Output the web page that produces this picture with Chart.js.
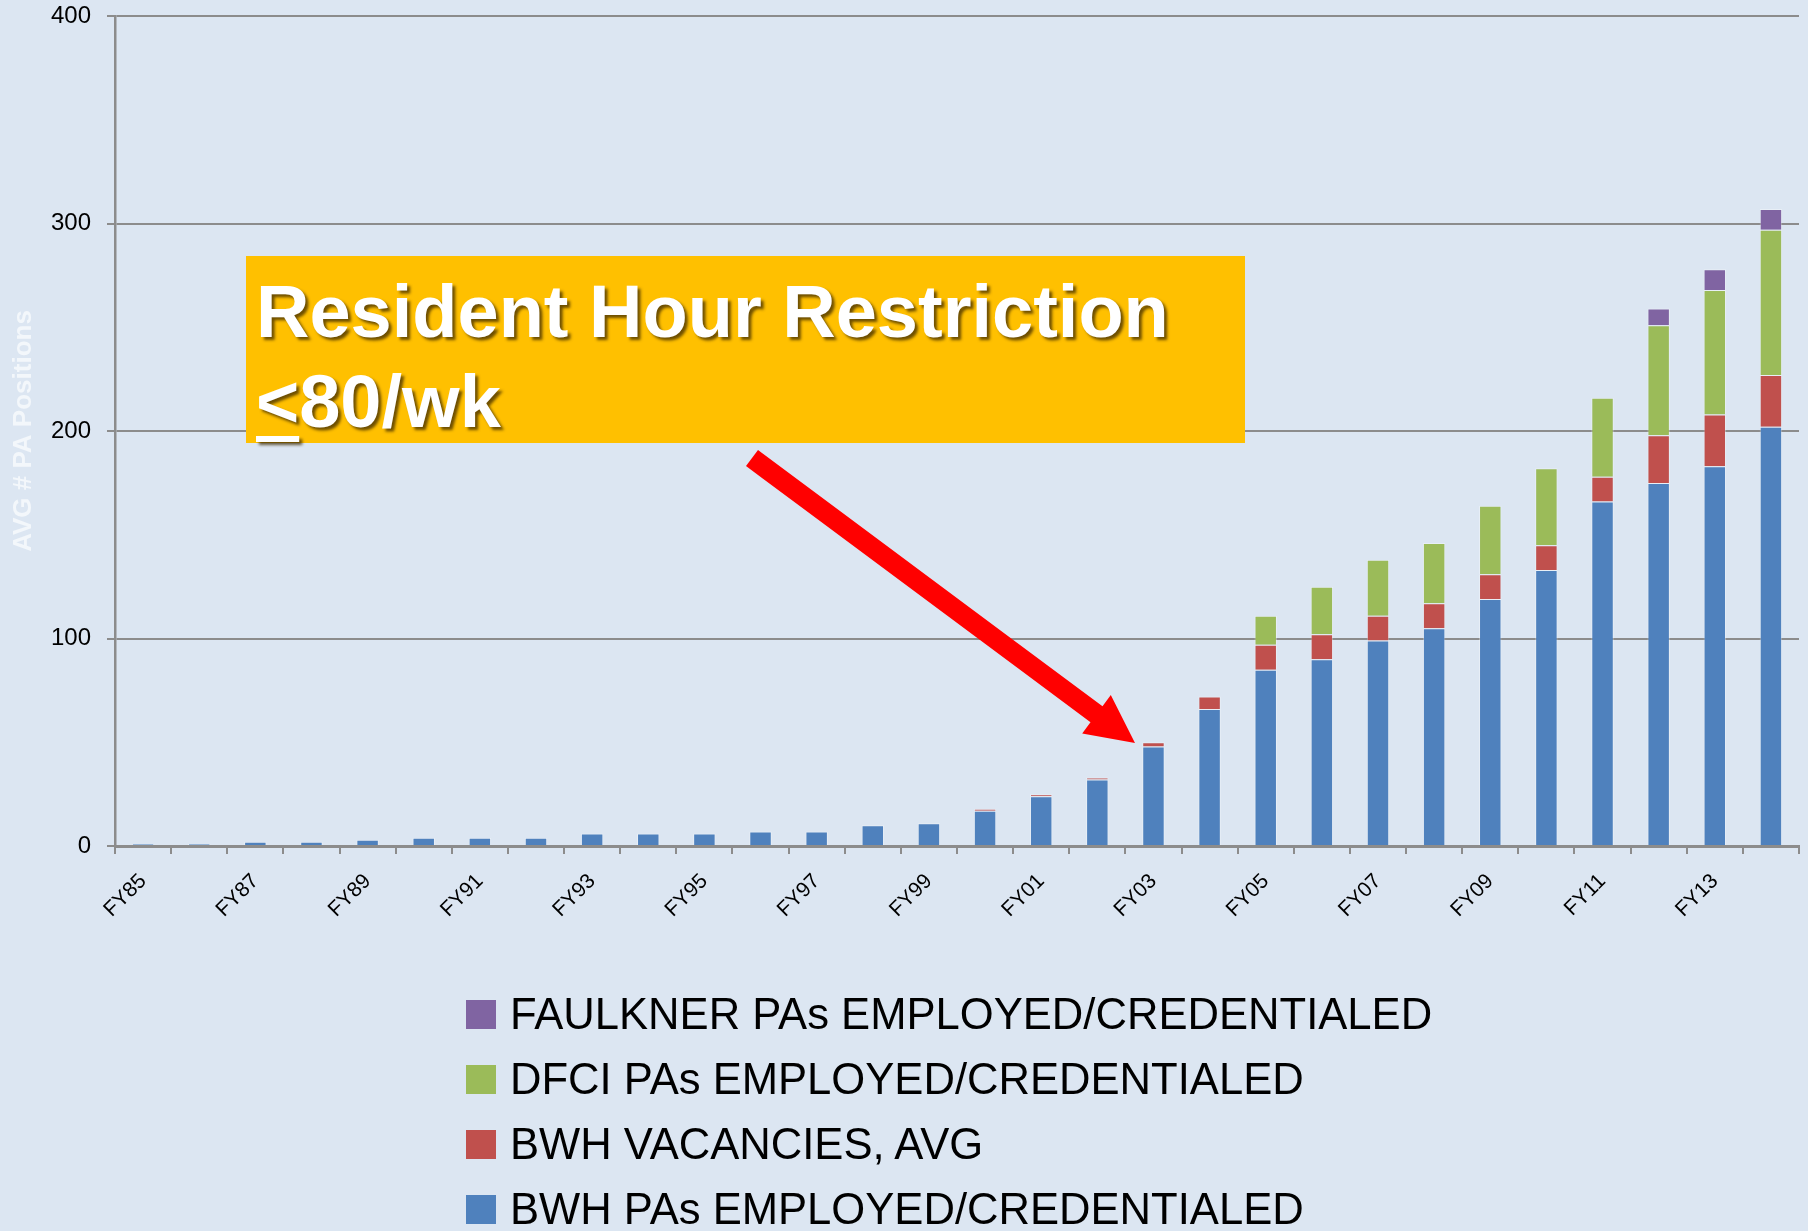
<!DOCTYPE html>
<html>
<head>
<meta charset="utf-8">
<script src="https://cdn.jsdelivr.net/npm/chart.js@4.4.1/dist/chart.umd.min.js"></script>
<style>
  html, body { margin: 0; padding: 0; background: #dce6f2; }
  #wrap { position: relative; width: 1808px; height: 1231px; overflow: hidden; background: #dce6f2; }
  #c { position: absolute; left: 0; top: 0; }
  #note {
    position: absolute; left: 246px; top: 256px; width: 999px; height: 187px;
    background: #ffc000; box-sizing: border-box; padding: 11px 0 0 10px;
    font-family: "Liberation Sans", Arial, sans-serif; font-weight: bold; font-size: 74px;
    line-height: 90px; color: #fff; text-shadow: 3px 3px 3px rgba(60,40,0,0.75); white-space: nowrap;
  }
  #note u { text-decoration-thickness: 6px; text-underline-offset: 9px; }
  #arrow { position: absolute; left: 0; top: 0; }
  #legend {
    position: absolute; left: 466px; top: 982px;
    font-family: "Liberation Sans", Arial, sans-serif; font-size: 43.6px; color: #000;
  }
  .row { display: flex; align-items: center; height: 65px; line-height: 65px; white-space: nowrap; }
  .sw { width: 30px; height: 29px; margin-right: 14px; flex: none; }
</style>
</head>
<body>
<div id="wrap">
  <canvas id="c" width="1808" height="1231"></canvas>
  <svg id="arrow" width="1808" height="1231">
    <polygon points="758,450 1102.5,706.3 1110.8,695 1135,743 1082.2,733.6 1090.5,722.3 746,466" fill="#ff0000"/>
  </svg>
  <div id="note">Resident Hour Restriction<br><u>&lt;</u>80/wk</div>
  <div id="legend"></div>
</div>
<script>
const categories = ["FY85","FY86","FY87","FY88","FY89","FY90","FY91","FY92","FY93","FY94",
  "FY95","FY96","FY97","FY98","FY99","FY00","FY01","FY02","FY03","FY04",
  "FY05","FY06","FY07","FY08","FY09","FY10","FY11","FY12","FY13","FY14"];
const bwhEmployed = [1,1,2,2,3,4,4,4,6,6,6,7,7,10,11,17,24,32,48,66,85,90,99,105,119,133,166,175,183,202];
const bwhVacancies = [0,0,0,0,0,0,0,0,0,0,0,0,0,0,0,1,1,1,2,6,12,12,12,12,12,12,12,23,25,25];
const dfciEmployed = [0,0,0,0,0,0,0,0,0,0,0,0,0,0,0,0,0,0,0,0,14,23,27,29,33,37,38,53,60,70];
const faulknerEmployed = [0,0,0,0,0,0,0,0,0,0,0,0,0,0,0,0,0,0,0,0,0,0,0,0,0,0,0,8,10,10];
const seriesNames = ["BWH PAs EMPLOYED/CREDENTIALED","BWH VACANCIES, AVG","DFCI PAs EMPLOYED/CREDENTIALED","FAULKNER PAs EMPLOYED/CREDENTIALED"];
const seriesColors = ["#4f81bd","#c0504d","#9bbb59","#8064a2"];
const yTicks = [0,100,200,300,400];
const yTitle = "AVG # PA Positions";

Chart.defaults.font.family = "'Liberation Sans', Arial, sans-serif";
const seriesValues = [bwhEmployed, bwhVacancies, dfciEmployed, faulknerEmployed];
const datasets = seriesValues.map((vals, i) => ({
  label: seriesNames[i],
  data: vals,
  backgroundColor: seriesColors[i],
  borderColor: "rgba(255,255,255,0.35)",
  borderWidth: 1,
  barPercentage: 0.40,
  categoryPercentage: 1.0
}));

const chart = new Chart(document.getElementById("c"), {
  type: "bar",
  data: { labels: categories, datasets },
  options: {
    responsive: false,
    animation: false,
    layout: { padding: { top: 16, right: 9, left: 0, bottom: 0 } },
    plugins: { legend: { display: false }, tooltip: { enabled: false } },
    scales: {
      x: {
        stacked: true,
        grid: { display: true, drawOnChartArea: false, drawTicks: true, tickLength: 8, color: "#8c8c8c", lineWidth: 2 },
        border: { display: true, color: "#8c8c8c", width: 3 },
        ticks: {
          autoSkip: false, maxRotation: 45, minRotation: 45, padding: 15,
          color: "#000", font: { size: 21 },
          callback: function(v, idx) { return idx % 2 === 0 ? categories[idx] : ""; }
        },
        afterFit: function(s) { s.height = 1231 - 846; s.paddingLeft = 0; s.paddingRight = 0; }
      },
      y: {
        stacked: true, min: 0, max: 400,
        afterBuildTicks: function(s) { s.ticks = yTicks.map(v => ({ value: v })); },
        grid: { color: "#8c8c8c", lineWidth: 2, tickLength: 8 },
        border: { display: true, color: "#8c8c8c", width: 2.5 },
        ticks: { color: "#000", font: { size: 24 }, padding: 16 },
        title: { display: true, text: yTitle, color: "#f3f7fb", font: { size: 26, weight: "bold" }, padding: { top: 8, bottom: 0 } },
        afterFit: function(s) { s.width = 115; s.paddingTop = 0; s.paddingBottom = 0; }
      }
    }
  }
});

// Legend built from the chart's datasets (reversed order like the original)
const legend = document.getElementById("legend");
chart.data.datasets.slice().reverse().forEach(ds => {
  const row = document.createElement("div");
  row.className = "row";
  const sw = document.createElement("span");
  sw.className = "sw";
  sw.style.background = ds.backgroundColor;
  const t = document.createElement("span");
  t.textContent = ds.label;
  row.appendChild(sw); row.appendChild(t);
  legend.appendChild(row);
});
</script>
</body>
</html>
